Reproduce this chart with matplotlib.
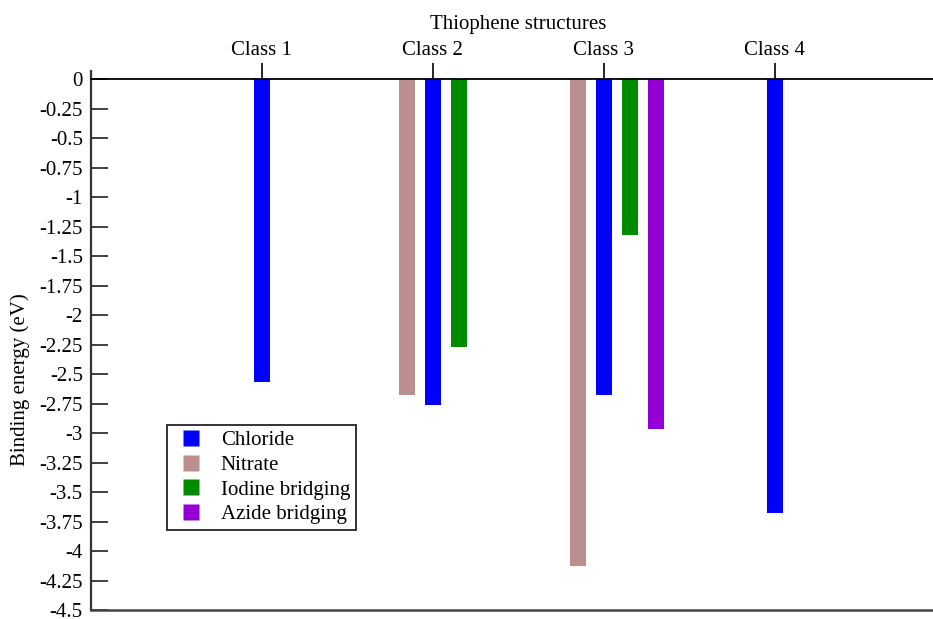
import matplotlib
matplotlib.use("Agg")
import matplotlib.pyplot as plt
from matplotlib.lines import Line2D
import numpy as np

# --- data -------------------------------------------------------------
class_labels = ["Class 1", "Class 2", "Class 3", "Class 4"]
class_pos = [1, 2, 3, 4]

chloride_x = [1, 2, 3, 4]
chloride = [-2.57, -2.76, -2.68, -3.68]

nitrate_x = [2, 3]
nitrate = [-2.68, -4.13]

iodine_x = [2, 3]
iodine = [-2.27, -1.32]

azide_x = [3]
azide = [-2.97]

series_names = ["Chloride", "Nitrate", "Iodine bridging", "Azide bridging"]
series_colors = ["#0000ff", "#bc8f8f", "#008b00", "#9400d3"]

yticks = [0, -0.25, -0.5, -0.75, -1, -1.25, -1.5, -1.75, -2, -2.25, -2.5,
          -2.75, -3, -3.25, -3.5, -3.75, -4, -4.25, -4.5]

# --- figure -----------------------------------------------------------
W, H = 933, 619
plt.rcParams["font.family"] = ["Liberation Serif", "DejaVu Serif"]
plt.rcParams["font.size"] = 15

fig = plt.figure(figsize=(W / 100, H / 100), dpi=100)
left_px, right_px, top_px, bot_px = 90.5, 946.0, 71.0, 610.0
ax = fig.add_axes([left_px / W, 1 - bot_px / H,
                   (right_px - left_px) / W, (bot_px - top_px) / H])

bar_w = 0.094
step = 0.152
groups = [(chloride_x, chloride, 0.0),
          (nitrate_x, nitrate, -step),
          (iodine_x, iodine, step),
          (azide_x, azide, 2 * step)]
for (xs, vals, off), color in zip(groups, series_colors):
    ax.bar(np.array(xs) + off, vals, width=bar_w, color=color,
           edgecolor="none", zorder=2)

ax.set_xlim(0, 5)
ax.set_ylim(-4.5, 0.068)

# spines: left and bottom frame, top spine moved to y = 0
ax.spines["right"].set_visible(False)
ax.spines["left"].set_color("#333333")
ax.spines["left"].set_linewidth(1.6)
ax.spines["bottom"].set_color("#444444")
ax.spines["bottom"].set_linewidth(1.8)
ax.spines["top"].set_position(("data", 0))
ax.spines["top"].set_color("black")
ax.spines["top"].set_linewidth(1.3)
ax.spines["top"].set_zorder(3)

# class ticks on the zero line
ax.xaxis.set_ticks_position("top")
ax.set_xticks(class_pos)
ax.set_xticklabels(class_labels)
ax.tick_params(axis="x", which="both", top=True, bottom=False,
               labeltop=True, labelbottom=False, direction="inout",
               length=23, width=1.2, color="black", pad=2, labelsize=15)

ax.set_yticks(yticks)
ax.set_yticklabels(["%g" % v for v in yticks])
ax.tick_params(axis="y", direction="in", length=12, width=1.3,
               color="#333333", pad=5.5, labelsize=15)

fig.text(518 / W, 1 - 28.8 / H, "Thiophene structures", ha="center",
         va="baseline", fontsize=15)
fig.text(20 / W, 1 - 380 / H, "Binding energy (eV)", rotation=90,
         ha="center", va="center", fontsize=15)

handles = [Line2D([], [], linestyle="none", marker="s", markersize=12.2,
                  markerfacecolor=c, markeredgecolor="none")
           for c in series_colors]
leg = fig.legend(handles, series_names, loc="upper left",
                 bbox_to_anchor=(167 / W, 1 - 425 / H),
                 bbox_transform=fig.transFigure, borderaxespad=0,
                 frameon=True, fancybox=False, framealpha=1,
                 edgecolor="#333333", borderpad=0.28, handlelength=1.78,
                 handletextpad=0.52, labelspacing=0.24, fontsize=15)
leg.get_frame().set_linewidth(1.4)

fig.savefig("out.png", dpi=100)
